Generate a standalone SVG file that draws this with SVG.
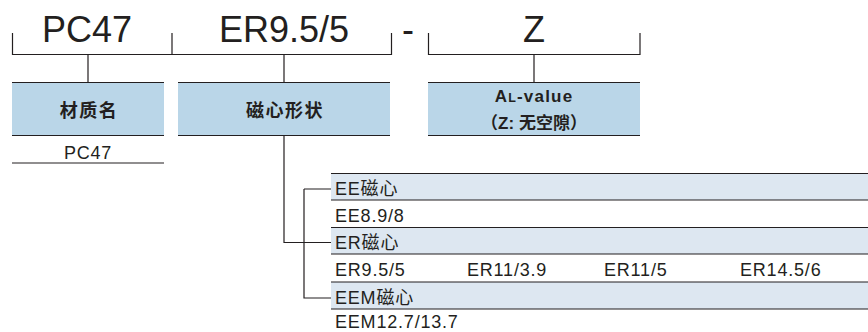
<svg xmlns="http://www.w3.org/2000/svg" width="868" height="332" viewBox="0 0 868 332">
<style>
  .ln{stroke:#231f20;stroke-width:1.2;fill:none}
  .big{font-family:"Liberation Sans","Noto Sans CJK SC",sans-serif;font-size:36px;fill:#231f20;text-anchor:middle}
  .hdr{fill:#bad6e8}
  .band{fill:#dde7f1}
  .lbl{font-family:"Liberation Sans","Noto Sans CJK SC",sans-serif;font-size:18px;font-weight:bold;fill:#231f20;text-anchor:middle;letter-spacing:1.5px}
  .t{font-family:"Liberation Sans","Noto Sans CJK SC",sans-serif;font-size:18px;fill:#231f20;letter-spacing:0.8px}
</style>
<rect width="868" height="332" fill="#ffffff"/>

<g id="code">
  <text class="big" x="87" y="42">PC47</text>
  <text class="big" x="284" y="42">ER9.5/5</text>
  <text class="big" x="408" y="42">-</text>
  <text class="big" x="534" y="42">Z</text>
  <path class="ln" d="M12.5 33V54.5H391.5V33M172 33V54.5M428.5 33V54.5H640V33"/>
</g>

<g id="connectors">
  <path class="ln" d="M88 54.5V82M284 54.5V82M534 54.5V82"/>
  <path class="ln" d="M284 136V242.5H331M304 189H331M304 189V298H331"/>
</g>

<g id="node-material">
  <rect class="hdr" x="12" y="82" width="152" height="54"/>
  <path class="ln" d="M12 82.5H164M12 135.5H164M12 163H164"/>
  <text class="lbl" x="89" y="117">材质名</text>
  <text class="t" x="88" y="159" text-anchor="middle">PC47</text>
</g>

<g id="node-shape">
  <rect class="hdr" x="178" y="82" width="212" height="54"/>
  <path class="ln" d="M178 82.5H390M178 135.5H390"/>
  <text class="lbl" x="285" y="117">磁心形状</text>
</g>

<g id="node-al">
  <rect class="hdr" x="428" y="82" width="212" height="54"/>
  <path class="ln" d="M428 82.5H640M428 135.5H640"/>
  <text class="lbl" x="534" y="102" style="font-size:17px;letter-spacing:1.2px">A<tspan font-size="12.5">L</tspan>-value</text>
  <text class="lbl" x="534" y="129" style="font-size:17px;letter-spacing:0px">（Z: 无空隙）</text>
</g>

<g id="node-ee">
  <rect class="band" x="331" y="173" width="537" height="27"/>
  <path class="ln" d="M331 173.5H868M331 200H868"/>
  <text class="t" x="335" y="195">EE磁心</text>
  <text class="t" x="335" y="222">EE8.9/8</text>
</g>

<g id="node-er">
  <rect class="band" x="331" y="227" width="537" height="27"/>
  <path class="ln" d="M331 227.5H868M331 254H868"/>
  <text class="t" x="335" y="249">ER磁心</text>
  <text class="t" x="335" y="276">ER9.5/5</text>
  <text class="t" x="467" y="276">ER11/3.9</text>
  <text class="t" x="604" y="276">ER11/5</text>
  <text class="t" x="740" y="276">ER14.5/6</text>
</g>

<g id="node-eem">
  <rect class="band" x="331" y="282" width="537" height="27"/>
  <path class="ln" d="M331 282H868M331 309H868"/>
  <text class="t" x="335" y="304">EEM磁心</text>
  <text class="t" x="335" y="328">EEM12.7/13.7</text>
</g>
</svg>
